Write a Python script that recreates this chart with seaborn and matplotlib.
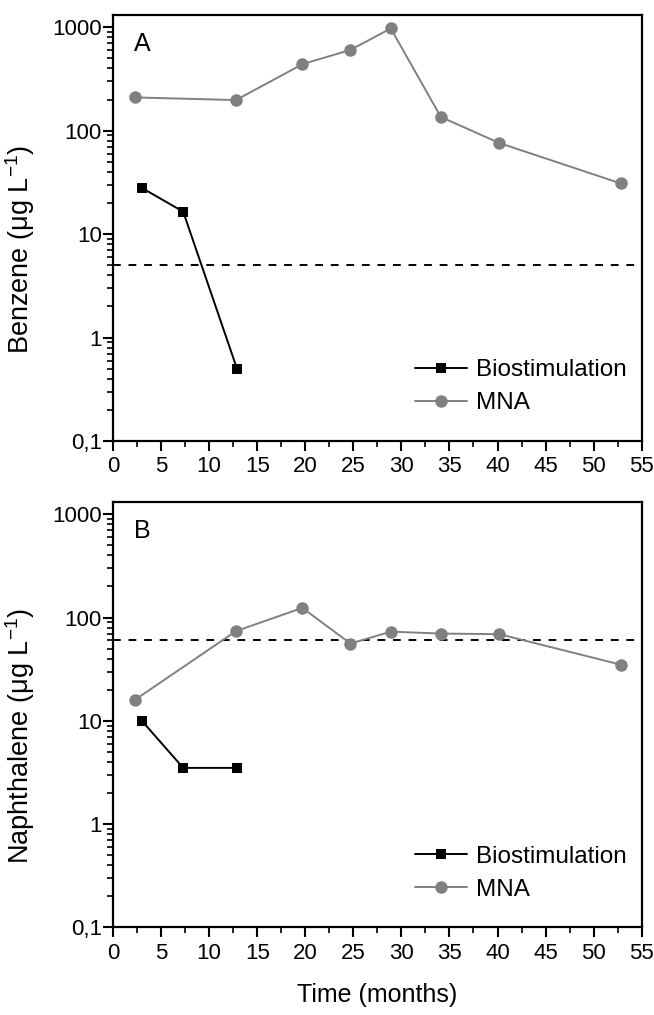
import numpy as np
import pandas as pd
import matplotlib
matplotlib.use("Agg")
import matplotlib.pyplot as plt
import seaborn as sns
from matplotlib.ticker import FixedLocator, FuncFormatter, LogLocator, NullFormatter

sns.set_style("ticks")
plt.rcParams['font.family'] = ['Liberation Sans', 'DejaVu Sans']
plt.rcParams['text.color'] = 'black'
plt.rcParams['axes.labelcolor'] = 'black'
plt.rcParams['xtick.color'] = 'black'
plt.rcParams['ytick.color'] = 'black'
plt.rcParams['axes.edgecolor'] = 'black'

# Benzene (panel A)
benz_bio_t = [3.0, 7.3, 12.9]
benz_bio = [28, 16.5, 0.5]
benz_mna_t = [2.3, 12.8, 19.7, 24.7, 28.9, 34.1, 40.2, 52.8]
benz_mna = [210, 198, 440, 605, 975, 136, 76, 31]
benz_limit = 5

# Naphthalene (panel B)
naph_bio_t = [3.0, 7.3, 12.9]
naph_bio = [10, 3.5, 3.5]
naph_mna_t = [2.3, 12.8, 19.7, 24.7, 28.9, 34.1, 40.2, 52.8]
naph_mna = [16, 74, 124, 56, 73, 70, 69, 35]
naph_limit = 60

series_names = ["Biostimulation", "MNA"]
y_ticks = [0.1, 1, 10, 100, 1000]
y_tick_labels = ["0,1", "1", "10", "100", "1000"]
x_ticks = list(range(0, 60, 5))


def make_df(bio_t, bio, mna_t, mna):
    return pd.concat([
        pd.DataFrame({"t": bio_t, "c": bio, "series": series_names[0]}),
        pd.DataFrame({"t": mna_t, "c": mna, "series": series_names[1]}),
    ], ignore_index=True)


fig = plt.figure(figsize=(6.54, 10.15), dpi=100)
ax_a = fig.add_axes([0.1728, 0.5655, 0.8084, 0.4197])
ax_b = fig.add_axes([0.1728, 0.0864, 0.8084, 0.4190])

panels = [
    (ax_a, make_df(benz_bio_t, benz_bio, benz_mna_t, benz_mna), benz_limit, "A",
     r"Benzene (μg L$^{\mathregular{-1}}$)"),
    (ax_b, make_df(naph_bio_t, naph_bio, naph_mna_t, naph_mna), naph_limit, "B",
     r"Naphthalene (μg L$^{\mathregular{-1}}$)"),
]

for ax, df, limit, letter, ylab in panels:
    sns.lineplot(data=df, x="t", y="c", hue="series", style="series",
                 markers={"Biostimulation": "s", "MNA": "o"}, dashes=False,
                 palette={"Biostimulation": "black", "MNA": "#808080"},
                 markeredgewidth=0, linewidth=1.4, ax=ax)
    for ln in ax.get_lines():
        if ln.get_marker() == "s":
            ln.set_markersize(7.5)
        else:
            ln.set_markersize(9)
    ax.axhline(limit, color="black", linestyle=(0, (4, 4)), linewidth=1.4, zorder=1)
    ax.set_yscale("log")
    ax.set_ylim(0.1, 1315)
    ax.set_xlim(0, 55)
    ax.yaxis.set_major_locator(FixedLocator(y_ticks))
    ax.yaxis.set_major_formatter(FuncFormatter(lambda v, p: y_tick_labels[y_ticks.index(v)] if v in y_ticks else ""))
    ax.yaxis.set_minor_locator(LogLocator(base=10, subs=np.arange(2, 10), numticks=20))
    ax.yaxis.set_minor_formatter(NullFormatter())
    ax.set_xticks(x_ticks)
    ax.set_xticks(np.arange(2.5, 55, 5), minor=True)
    ax.tick_params(which="major", direction="out", length=7, width=1.5, labelsize=16)
    ax.tick_params(axis="y", which="major", pad=1)
    ax.tick_params(axis="x", which="major", pad=4)
    ax.tick_params(which="minor", direction="out", length=4, width=1.2)
    for s in ax.spines.values():
        s.set_linewidth(1.6)
        s.set_visible(True)
    ax.set_ylabel(ylab, fontsize=19.5)
    ax.yaxis.set_label_coords(-0.143, 0.45)
    ax.set_xlabel("")
    ax.text(0.04, 0.96, letter, transform=ax.transAxes, fontsize=18, va="top", ha="left")
    ax.legend(title=None, frameon=False, loc="lower right", fontsize=17.5,
              bbox_to_anchor=(0.99, 0.04), handlelength=2.15, handletextpad=0.35,
              labelspacing=0.45, borderaxespad=0)

ax_b.set_xlabel("Time (months)", fontsize=18, labelpad=14)

fig.savefig("out.png", dpi=100)
